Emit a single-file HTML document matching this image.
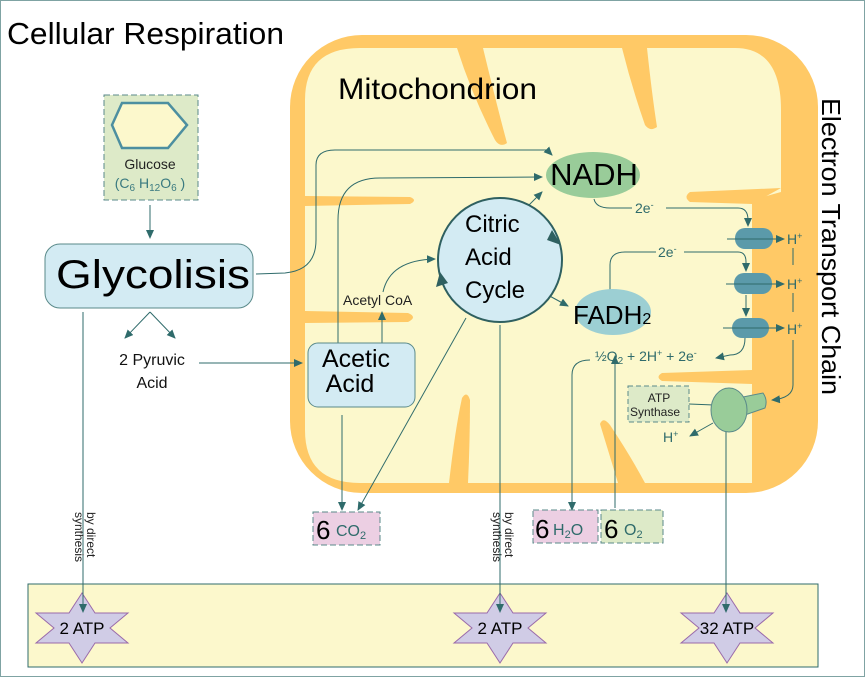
<!DOCTYPE html>
<html><head><meta charset="utf-8"><style>
body{margin:0;background:#fff}
svg{display:block}
text{font-family:"Liberation Sans",sans-serif}
</style></head><body>
<svg width="865" height="677" viewBox="0 0 865 677" xmlns="http://www.w3.org/2000/svg">
<defs>
<marker id="a" markerWidth="10" markerHeight="10" refX="8" refY="4" orient="auto" markerUnits="userSpaceOnUse"><path d="M0,0 L9,4 L0,8 z" fill="#2f6b6b"/></marker>
</defs>
<rect x="0.5" y="0.5" width="864" height="676" fill="#fff" stroke="#7fa3a3"/>
<text x="7" y="44" font-size="31" fill="#000" textLength="277" lengthAdjust="spacingAndGlyphs">Cellular Respiration</text>

<rect x="290" y="35" width="528" height="458" rx="72" fill="#FFC966"/>
<path d="M305,100 Q305,48 360,48 L735,48 Q781,48 781,110 L781,192 L752,200 L752,483 L360,483 Q305,483 305,430 Z" fill="#FCF8CC"/>
<g fill="#FFC966">
<path d="M457,48 L483,48 Q498,110 507,143 Q500,148 495,140 Q472,95 457,48 Z"/>
<path d="M622,48 L647,48 Q652,95 657,127 Q650,132 645,125 Q632,88 622,48 Z"/>
<path d="M305,196 L410,197 Q418,200 410,204 L305,206 Z"/>
<path d="M305,311 L408,313 Q418,317 408,322 L305,323 Z"/>
<path d="M781,188 L690,192 Q683,197 690,202 L752,204 Z"/>
<path d="M752,370 L662,373 Q655,377 662,381 L752,384 Z"/>
<path d="M449,483 Q455,430 462,398 Q467,390 470,400 Q470,440 468,483 Z"/>
<path d="M600,424 Q603,416 610,425 Q630,455 645,483 L618,483 Q608,450 600,424 Z"/>
</g>
<text x="338" y="99" font-size="30" fill="#000" textLength="199" lengthAdjust="spacingAndGlyphs">Mitochondrion</text>
<text transform="translate(822,98) rotate(90)" font-size="26" fill="#000" textLength="297" lengthAdjust="spacingAndGlyphs">Electron Transport Chain</text>

<rect x="104" y="95" width="94" height="105" fill="#DDEAC8" stroke="#5a8a8a" stroke-dasharray="6,3"/>
<polygon points="112,125 122,103 168,103 187,125 168,148 122,148" fill="#FCF8CC" stroke="#4d8fa0" stroke-width="2.5"/>
<text x="150" y="169" font-size="14" text-anchor="middle" fill="#222">Glucose</text>
<text x="150" y="188" font-size="14" text-anchor="middle" fill="#3a7a80">(C<tspan font-size="10" dy="3">6</tspan><tspan dy="-3"> H</tspan><tspan font-size="10" dy="3">12</tspan><tspan dy="-3">O</tspan><tspan font-size="10" dy="3">6</tspan><tspan dy="-3"> )</tspan></text>
<line x1="150" y1="205" x2="150" y2="238" stroke="#2f6b6b" marker-end="url(#a)"/>

<rect x="45" y="244" width="208" height="64" rx="15" fill="#D3EBF3" stroke="#5a8a8a"/>
<text x="56" y="288" font-size="40" fill="#000" textLength="194" lengthAdjust="spacingAndGlyphs">Glycolisis</text>

<rect x="28" y="584" width="790" height="83" fill="#FCF8CC" stroke="#2f6b6b"/>
<g fill="#D0CCE6" stroke="#9a6aaa">
<polygon points="82,593 95,613 128,613 110,628 128,643 95,643 82,663 69,643 36,643 54,628 36,613 69,613"/>
<polygon points="500,593 513,613 546,613 528,628 546,643 513,643 500,663 487,643 454,643 472,628 454,613 487,613"/>
<polygon points="727,593 740,613 773,613 755,628 773,643 740,643 727,663 714,643 681,643 699,628 681,613 714,613"/>
</g>
<g font-size="17" text-anchor="middle" fill="#000">
<text x="82" y="634">2 ATP</text><text x="500" y="634">2 ATP</text><text x="727" y="634">32 ATP</text></g>

<g stroke="#2f6b6b" fill="none" stroke-width="1">
<line x1="150" y1="312" x2="125" y2="338" marker-end="url(#a)"/>
<line x1="150" y1="312" x2="175" y2="338" marker-end="url(#a)"/>
<line x1="199" y1="363" x2="302" y2="363" marker-end="url(#a)"/>
<path d="M256,274 L285,273 Q316,270 316,240 L316,165 Q316,150 335,150 L547,150 L552,155" marker-end="url(#a)"/>
<path d="M338,343 L338,220 Q338,178 380,178 L542,177" marker-end="url(#a)"/>
<line x1="83" y1="312" x2="83" y2="612" marker-end="url(#a)"/>
<line x1="342" y1="415" x2="342" y2="510" marker-end="url(#a)"/>
<line x1="466" y1="318" x2="358" y2="510" marker-end="url(#a)"/>
<line x1="500" y1="325" x2="500" y2="612" marker-end="url(#a)"/>
<line x1="382" y1="343" x2="382" y2="312" marker-end="url(#a)"/>
<path d="M383,292 Q390,260 435,259" marker-end="url(#a)"/>
<line x1="528" y1="206" x2="542" y2="192" marker-end="url(#a)"/>
<line x1="546" y1="294" x2="568" y2="306" marker-end="url(#a)"/>
<path d="M594,199 Q596,208 610,208 L632,208 M666,208 L738,208 Q748,208 748,220 L748,226" marker-end="url(#a)"/>
<path d="M610,290 L610,265 Q610,252 625,252 L656,252 M684,252 L738,252 Q746,252 746,262 L746,271" marker-end="url(#a)"/>
<line x1="746" y1="295" x2="746" y2="316" marker-end="url(#a)"/>
<path d="M745,338 Q745,355 730,355 L716,358" marker-end="url(#a)"/>
<path d="M572,510 L572,375 Q572,360 590,360" />
<line x1="572" y1="495" x2="572" y2="510" marker-end="url(#a)"/>
<line x1="615" y1="508" x2="615" y2="356" marker-end="url(#a)"/>
<path d="M793,248 L793,265 M793,293 L793,312 M793,340 L793,385 Q793,398 772,400" marker-end="url(#a)"/>
<line x1="689" y1="404" x2="714" y2="405"/>
<line x1="713" y1="423" x2="690" y2="436" marker-end="url(#a)"/>
<line x1="726" y1="432" x2="726" y2="612" marker-end="url(#a)"/>
</g>
<text x="152" y="365" font-size="16" text-anchor="middle" fill="#111">2 Pyruvic</text>
<text x="152" y="388" font-size="16" text-anchor="middle" fill="#111">Acid</text>
<text x="343" y="305" font-size="14" fill="#222">Acetyl CoA</text>
<text transform="translate(87,512) rotate(90)" font-size="12" fill="#222"><tspan x="0" dy="0">by direct</tspan><tspan x="0" dy="12">synthesis</tspan></text>
<text transform="translate(505,512) rotate(90)" font-size="12" fill="#222"><tspan x="0" dy="0">by direct</tspan><tspan x="0" dy="12">synthesis</tspan></text>

<rect x="308" y="343" width="107" height="64" rx="10" fill="#D3EBF3" stroke="#5a8a8a"/>
<text x="356" y="367" font-size="25" text-anchor="middle" fill="#000">Acetic</text>
<text x="350" y="392" font-size="25" text-anchor="middle" fill="#000">Acid</text>

<circle cx="500" cy="260" r="62" fill="#D3EBF3" stroke="#2f6060" stroke-width="2"/>
<path d="M552,230 L561,245 L547,240 z" fill="#2f6060"/>
<path d="M440,272 L448,283 L436,287 z" fill="#2f6060"/>
<text x="465" y="232" font-size="24" fill="#000">Citric</text>
<text x="465" y="265" font-size="24" fill="#000">Acid</text>
<text x="465" y="298" font-size="24" fill="#000">Cycle</text>

<ellipse cx="593" cy="175" rx="47" ry="23" fill="#99CC99"/>
<text x="594" y="185" font-size="31" text-anchor="middle" fill="#000">NADH</text>
<ellipse cx="613" cy="312" rx="38" ry="23" fill="#9CCFD3"/>
<text x="573" y="324" font-size="26" fill="#000">FADH<tspan font-size="16">2</tspan></text>

<g fill="#2f6b6b" font-size="14">
<text x="635" y="213">2e<tspan font-size="9" dy="-5">-</tspan></text>
<text x="658" y="257">2e<tspan font-size="9" dy="-5">-</tspan></text>
<text x="595" y="361">½O<tspan font-size="10" dy="3">2</tspan><tspan dy="-3"> + 2H</tspan><tspan font-size="9" dy="-5">+</tspan><tspan dy="5"> + 2e</tspan><tspan font-size="9" dy="-5">-</tspan></text>
<text x="787" y="244">H<tspan font-size="9" dy="-5">+</tspan></text>
<text x="787" y="289">H<tspan font-size="9" dy="-5">+</tspan></text>
<text x="787" y="334">H<tspan font-size="9" dy="-5">+</tspan></text>
<text x="663" y="442">H<tspan font-size="9" dy="-5">+</tspan></text>
</g>

<rect x="735" y="228" width="38" height="21" rx="10" fill="#5B9AAA"/>
<rect x="734" y="273" width="38" height="21" rx="10" fill="#5B9AAA"/>
<rect x="732" y="318" width="37" height="20" rx="10" fill="#5B9AAA"/>
<g stroke="#2f6b6b"><line x1="727" y1="239" x2="784" y2="239" marker-end="url(#a)"/>
<line x1="726" y1="284" x2="784" y2="284" marker-end="url(#a)"/>
<line x1="723" y1="328" x2="784" y2="328" marker-end="url(#a)"/></g>

<rect x="628" y="386" width="61" height="36" fill="#DDEAC8" stroke="#5a8a8a" stroke-dasharray="5,3"/>
<text x="659" y="402" font-size="12" text-anchor="middle" fill="#222">ATP</text>
<text x="655" y="416" font-size="12" text-anchor="middle" fill="#222">Synthase</text>
<path d="M738,398 L763,393 Q768,400 765,408 L742,416 Z" fill="#99CC99" stroke="#5a8a8a"/>
<ellipse cx="729" cy="410" rx="18" ry="22" fill="#99CC99" stroke="#5a8a8a"/>

<rect x="313" y="512" width="67" height="33" fill="#ECCFE3" stroke="#5a8a8a" stroke-dasharray="6,3"/>
<text x="316" y="539" font-size="26" fill="#000">6</text><text x="336" y="536" font-size="16" fill="#2f6b6b">CO<tspan font-size="11" dy="3">2</tspan></text>
<rect x="533" y="510" width="65" height="33" fill="#ECCFE3" stroke="#5a8a8a" stroke-dasharray="6,3"/>
<text x="535" y="538" font-size="26" fill="#000">6</text><text x="553" y="535" font-size="16" fill="#2f6b6b">H<tspan font-size="11" dy="3">2</tspan><tspan dy="-3">O</tspan></text>
<rect x="601" y="510" width="62" height="33" fill="#DDEAC8" stroke="#5a8a8a" stroke-dasharray="6,3"/>
<text x="604" y="538" font-size="26" fill="#000">6</text><text x="624" y="535" font-size="16" fill="#2f6b6b">O<tspan font-size="11" dy="3">2</tspan></text>
</svg>
</body></html>
